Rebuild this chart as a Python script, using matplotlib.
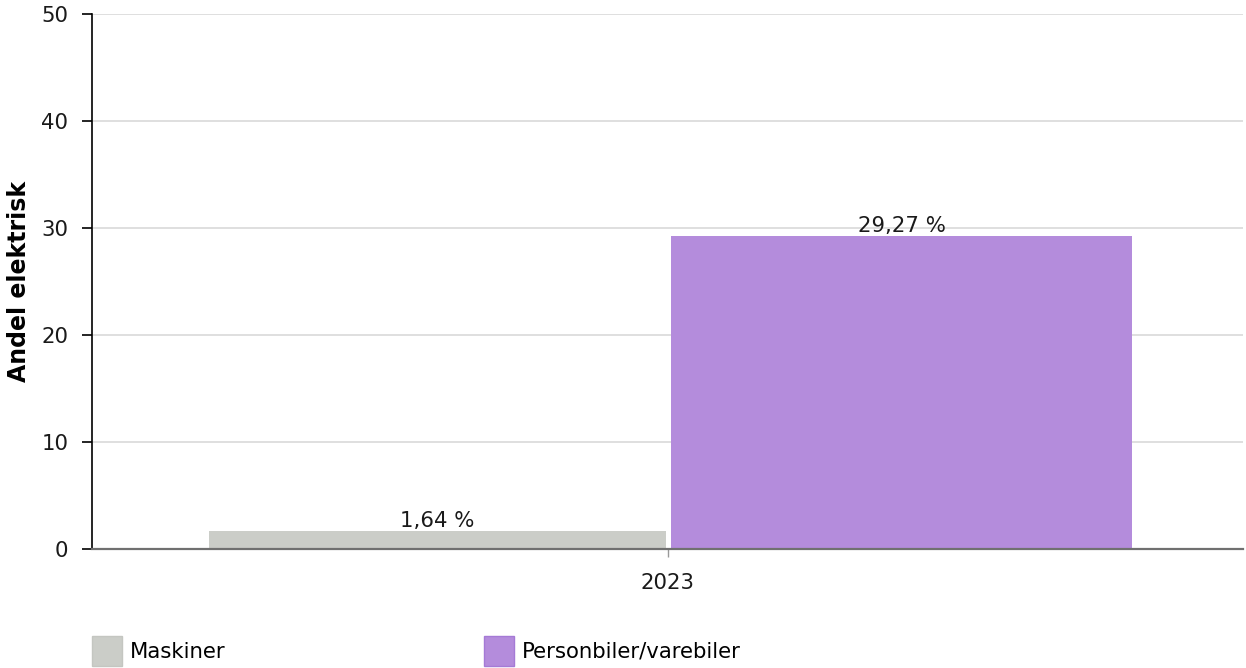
import matplotlib.pyplot as plt
import matplotlib.patches as mpatches

# data
years = ["2023"]
series = ["Maskiner", "Personbiler/varebiler"]
values = [1.64, 29.27]
colors = ["#cbcdc8", "#b48cdc"]
edge_colors = ["#c4c6c1", "#a57ad6"]
y_ticks = [0, 10, 20, 30, 40, 50]

plt.rcParams["font.family"] = ["Verdana", "DejaVu Sans"]
FS = 15.3

fig = plt.figure(figsize=(12.46, 6.68), dpi=100)
ax = fig.add_axes([92 / 1246, 1 - 549 / 668, 1151 / 1246, 535 / 668])

widths = [0.397, 0.4005]
offsets = [-0.2, 0.2033]
for i, (name, val) in enumerate(zip(series, values)):
    bars = ax.bar(offsets[i], val, width=widths[i], color=colors[i], zorder=2)
    ax.bar_label(bars, labels=[f"{val:.2f}".replace(".", ",") + " %"],
                 padding=0, fontsize=FS, color="#1a1a1a", zorder=5)

ax.set_xlim(-0.5, 0.5)
ax.set_ylim(0, 50)
ax.set_xticks([0.0])
ax.set_xticklabels(years)
ax.set_yticks(y_ticks)
ax.grid(axis="y", color="#d9d9d9", linewidth=1.2, zorder=0)
ax.set_axisbelow(True)

for s in ["top", "right"]:
    ax.spines[s].set_visible(False)
ax.spines["left"].set_color("black")
ax.spines["left"].set_linewidth(1.2)
ax.spines["bottom"].set_color("#707070")
ax.spines["bottom"].set_linewidth(1.6)
ax.spines["bottom"].set_zorder(4)

ax.tick_params(axis="y", length=7.5, width=1.2, color="black",
               labelsize=FS, pad=9.5, labelcolor="#1a1a1a")
ax.tick_params(axis="x", length=6, width=1.0, color="#999999",
               labelsize=FS, pad=11.5, labelcolor="#1a1a1a")

ax.set_ylabel("Andel elektrisk", fontsize=17, fontweight="bold")
ax.yaxis.set_label_coords(-61 / 1151, 0.5)

# legend, one box per series
leg_x = [92 / 1246, 484 / 1246]
for i, name in enumerate(series):
    h = mpatches.Patch(facecolor=colors[i], edgecolor=edge_colors[i], linewidth=1)
    fig.legend([h], [name], loc="center left",
               bbox_to_anchor=(leg_x[i], 1 - 651 / 668),
               frameon=False, fontsize=FS, borderpad=0,
               borderaxespad=0, handlelength=1.4, handleheight=1.78,
               handletextpad=0.4)

fig.savefig("out.png", dpi=100)
